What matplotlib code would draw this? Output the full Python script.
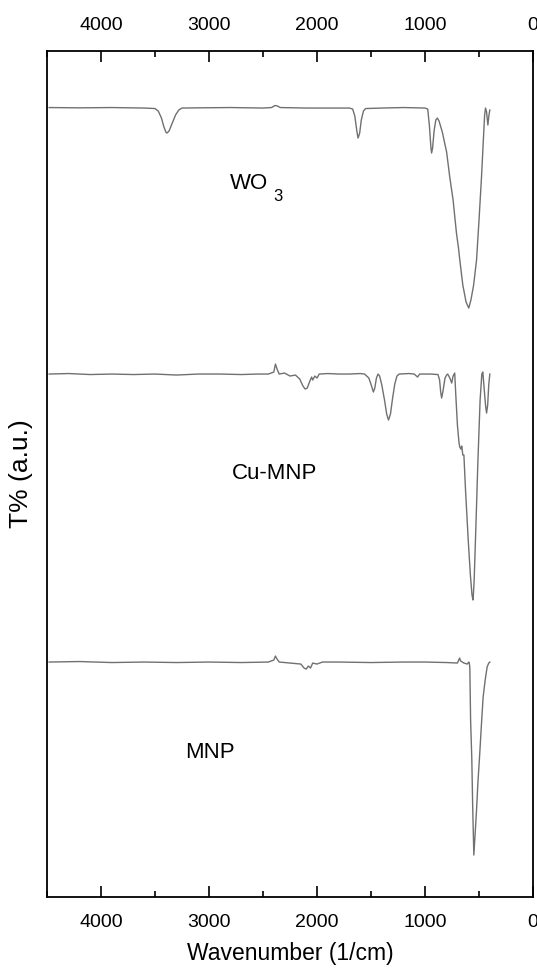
"""FTIR spectra of WO3, Cu-MNP and MNP, stacked with offsets (T% in a.u.)."""

import matplotlib
matplotlib.use("Agg")
import matplotlib.pyplot as plt
from matplotlib.ticker import MultipleLocator

plt.rcParams["font.family"] = ["Liberation Sans", "DejaVu Sans"]

# wavenumber (1/cm) and transmittance (a.u., already offset for stacking)
wo3_wn = [4480, 4200, 3900, 3600, 3500, 3470, 3440, 3420, 3400, 3389, 3370, 3340,
          3310, 3280, 3250, 3100, 2800, 2500, 2420, 2390, 2370, 2340, 2100, 1800,
          1700, 1670, 1650, 1630, 1620, 1605, 1590, 1570, 1550, 1400, 1200, 1000,
          975, 960, 945, 939, 930, 915, 900, 886, 870, 840, 800, 771, 740, 709,
          690, 678, 650, 620, 595, 575, 550, 523, 500, 477, 460, 448, 440, 430,
          418, 408, 400]
wo3_t = [789.5, 789.2, 789.5, 789, 788.5, 786, 779, 771, 765, 764, 766, 774,
         782, 787, 789, 789.2, 789.5, 789, 789.5, 791.5, 791.2, 789.5, 789, 789,
         789, 788, 781, 765, 759, 764, 777, 786, 788.5, 789, 789.5, 789,
         788, 772, 749, 744, 749, 767, 777, 779, 776, 765, 745, 720, 697, 664,
         649, 637, 612, 595, 589, 597, 612, 637, 677, 720, 757, 782, 789, 785,
         772, 782, 787]

cumnp_wn = [4480, 4300, 4100, 3900, 3700, 3500, 3300, 3100, 2900, 2700, 2550, 2450,
            2400, 2385, 2370, 2350, 2300, 2250, 2200, 2160, 2130, 2110, 2090, 2070,
            2050, 2040, 2020, 2000, 1980, 1900, 1800, 1700, 1600, 1560, 1520, 1495,
            1478, 1465, 1450, 1435, 1420, 1400, 1375, 1355, 1338, 1320, 1300, 1280,
            1260, 1240, 1150, 1100, 1069, 1050, 950, 880, 865, 855, 846, 835, 815,
            800, 790, 770, 753, 740, 725, 715, 700, 685, 678, 668, 660, 650, 640,
            625, 600, 580, 565, 555, 545, 530, 510, 490, 474, 465, 455, 440, 430,
            420, 410, 400]
cumnp_t = [523, 523.5, 522.5, 523, 522.5, 523, 522, 523, 523, 522.5, 523, 523,
           525, 533, 528, 523, 524, 521, 522, 518, 511, 508, 509, 515,
           520, 517, 521, 519, 523, 523.5, 523, 523, 523.5, 523, 519, 511,
           505, 509, 519, 523, 521, 512, 497, 483, 477, 483, 499, 513,
           521, 523, 523.5, 523, 520, 523, 523, 522.5, 517, 505, 499, 505, 519,
           522, 523, 519, 514, 521, 524, 502, 472, 454, 450, 448, 451, 442, 442,
           407, 357, 322, 302, 297, 317, 367, 437, 497, 523, 525, 512, 492, 484,
           492, 512, 523]

mnp_wn = [4480, 4200, 3900, 3600, 3300, 3000, 2700, 2450, 2400, 2385, 2370, 2350,
          2250, 2150, 2120, 2100, 2080, 2060, 2040, 2000, 1950, 1800, 1500, 1200,
          1000, 800, 700, 680, 670, 640, 610, 595, 590, 585, 578, 567, 558, 548,
          535, 523, 510, 493, 478, 462, 443, 425, 410, 400]
mnp_t = [235, 235.5, 234.5, 235, 234.5, 235, 234.5, 235, 237, 241, 238, 235,
         234, 233, 229, 228, 231, 229, 234, 233, 235, 235, 234.5, 235,
         235, 234.5, 234, 239, 236, 234, 233, 235, 234, 229, 177, 139, 87, 42,
         65, 87, 115, 144, 172, 200, 217, 230, 234, 235]

spectra = [("WO3", wo3_wn, wo3_t), ("Cu-MNP", cumnp_wn, cumnp_t), ("MNP", mnp_wn, mnp_t)]
labels = ["WO", "Cu-MNP", "MNP"]
label_pos = [(0.3765, 0.837), (0.381, 0.494), (0.284, 0.164)]

fig = plt.figure(figsize=(5.37, 9.76), dpi=100)
ax = fig.add_axes([0.0875, 0.0809, 0.9051, 0.8668])

for name, wn, t in spectra:
    ax.plot(wn, t, color="#707070", lw=1.0)

for text, (x, y) in zip(labels, label_pos):
    ax.text(x, y, text, transform=ax.transAxes, fontsize=16, ha="left", va="baseline")
# subscript of WO3 sits well below the baseline in the original
ax.text(0.466, 0.8227, "3", transform=ax.transAxes, fontsize=12, ha="left", va="baseline")

ax.set_xlim(4500, 0)
ax.set_ylim(0, 846)
ax.xaxis.set_major_locator(MultipleLocator(1000))
ax.xaxis.set_minor_locator(MultipleLocator(500))
ax.tick_params(axis="x", which="major", direction="in", length=8, width=1.2,
               top=True, labeltop=True, labelsize=14, pad=12)
ax.tick_params(axis="x", which="minor", direction="in", length=4, width=1.2, top=True)
ax.set_yticks([])
for s in ax.spines.values():
    s.set_linewidth(1.3)

ax.set_xlabel("Wavenumber (1/cm)", fontsize=16.5, labelpad=8)
ax.set_ylabel("T% (a.u.)", fontsize=19)
ax.yaxis.set_label_coords(-0.028, 0.5)

fig.savefig("out.png", dpi=100)
